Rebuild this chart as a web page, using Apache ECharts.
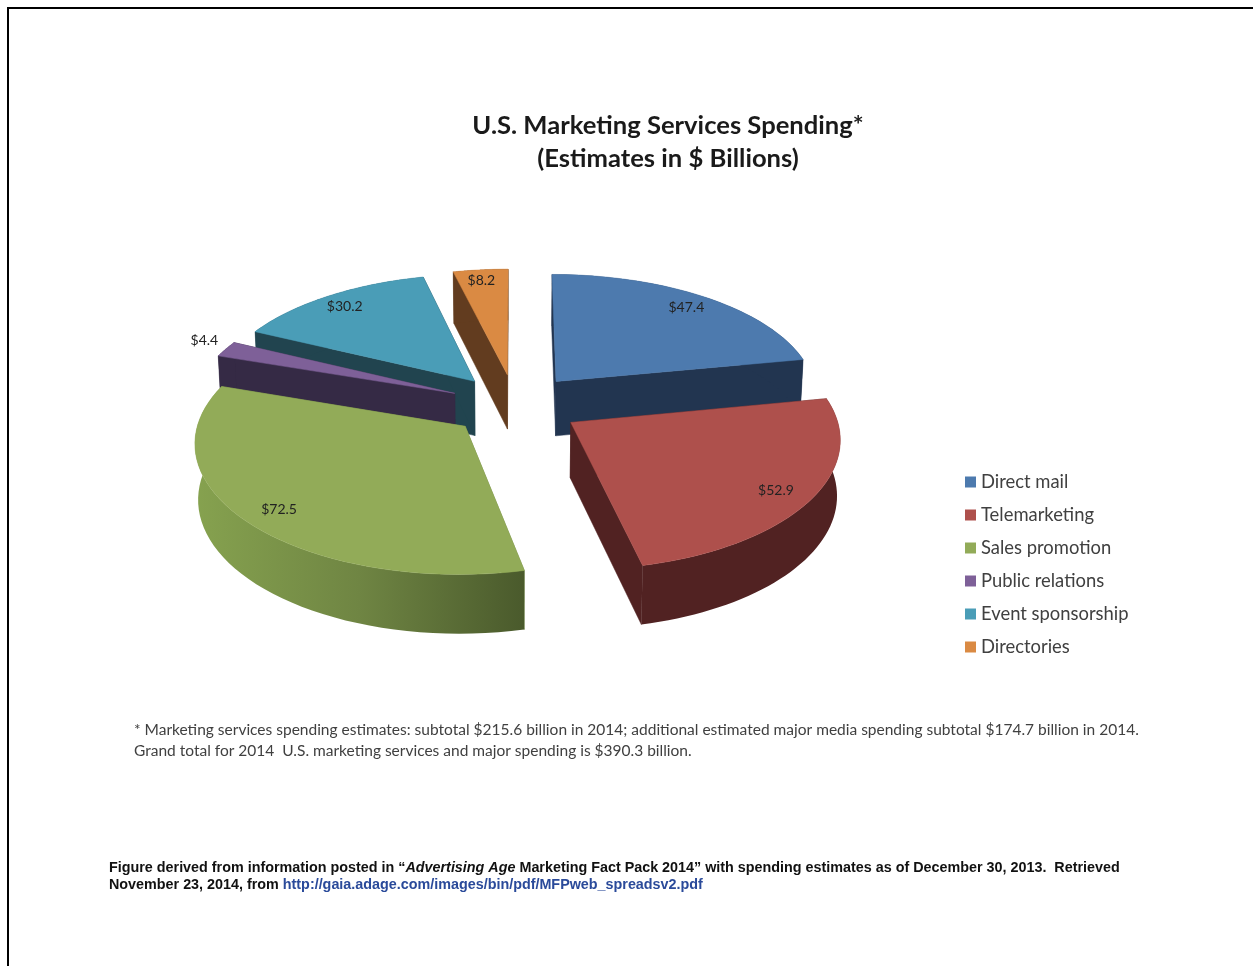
<!DOCTYPE html>
<html>
<head>
<meta charset="utf-8">
<style>
html, body { margin: 0; padding: 0; background: #fff; }
#chart { width: 1253px; height: 966px; }
</style>
<script src="https://cdn.jsdelivr.net/npm/echarts@6/dist/echarts.min.js"></script>
</head>
<body>
<div id="chart"></div>
<script>
const categories = ['Direct mail', 'Telemarketing', 'Sales promotion', 'Public relations', 'Event sponsorship', 'Directories'];
const spending = [47.4, 52.9, 72.5, 4.4, 30.2, 8.2];
const topColors = ['#4d7aae', '#ae504c', '#92ab58', '#7e6098', '#4a9db7', '#da8a43'];
const wallColors = ['#223550', '#512222', '#6d8440', '#352a45', '#21444f', '#623c1f'];
const labelRadius = [0.87, 0.87, 0.87, 1.12, 0.87, 0.89];
const labelTurn = [0, 1.5, -1, 2, -0.5, -0.5];
const paintOrder = [4, 6, 5, 3, 2, 1];

// projection of the pie plane, all in px
const centerX = 515, centerY = 405, radiusX = 263, radiusY = 125;
const depth = 55, perspectiveX = 0.11, perspectiveY = 0.119, explode = 0.25;

const total = spending.reduce((sum, v) => sum + v, 0);

function project(u, v, lower) {
    const sx = 1 / (1 - perspectiveX * v);
    const sy = 1 / (1 - perspectiveY * v);
    const shrink = lower ? 0.99 : 1;
    return [
        centerX + radiusX * u * sx * shrink,
        centerY + radiusY * v * sy + (lower ? depth * Math.sqrt(sy) : 0)
    ];
}

function renderSlice(index) {
    return function (params, api) {
        const value = api.value(0);
        const before = spending.slice(0, index).reduce((sum, v) => sum + v, 0);
        const start = before / total * Math.PI * 2;
        const end = (before + value) / total * Math.PI * 2;
        const mid = (start + end) / 2;
        const ox = explode * Math.sin(mid);
        const oy = -explode * Math.cos(mid);

        const arc = lower => {
            const pts = [];
            for (let i = 0; i <= 48; i++) {
                const a = start + (end - start) * i / 48;
                pts.push(project(ox + Math.sin(a), oy - Math.cos(a), lower));
            }
            return pts;
        };
        const topArc = arc(false);
        const lowArc = arc(true);
        const apexTop = project(ox, oy, false);
        const apexLow = project(ox, oy, true);
        const wallStyle = { fill: wallColors[index], stroke: wallColors[index], lineWidth: 0.5 };

        const outerFill = index === 2
            ? new echarts.graphic.LinearGradient(0, 0, 1, 0, [
                { offset: 0, color: '#86a24f' },
                { offset: 0.5, color: '#6f8543' },
                { offset: 1, color: '#4a5a2c' }
            ])
            : wallColors[index];

        const lr = labelRadius[index];
        const la = mid + labelTurn[index] * Math.PI / 180;
        const labelPos = project(ox + lr * Math.sin(la), oy - lr * Math.cos(la), false);

        return {
            type: 'group',
            children: [
                { type: 'polygon', shape: { points: [apexTop, topArc[0], lowArc[0], apexLow] }, style: wallStyle },
                { type: 'polygon', shape: { points: [apexTop, topArc[48], lowArc[48], apexLow] }, style: wallStyle },
                { type: 'polygon', shape: { points: topArc.concat(lowArc.slice().reverse()) }, style: { fill: outerFill } },
                { type: 'polygon', shape: { points: [apexTop].concat(topArc) }, style: { fill: topColors[index], stroke: topColors[index], lineWidth: 0.5 } },
                {
                    type: 'text',
                    x: labelPos[0],
                    y: labelPos[1],
                    z2: 10,
                    style: {
                        text: '$' + value.toFixed(1),
                        fill: '#222',
                        font: '14px Lato',
                        align: 'center',
                        verticalAlign: 'middle'
                    }
                }
            ]
        };
    };
}

const chart = echarts.init(document.getElementById('chart'));

chart.setOption({
    animation: false,
    backgroundColor: '#fff',
    title: {
        text: 'U.S. Marketing Services Spending*\n(Estimates in $ Billions)',
        left: 663,
        top: 104,
        textAlign: 'center',
        textStyle: { fontFamily: 'Lato', fontWeight: 'bold', fontSize: 25.6, lineHeight: 33, color: '#1a1a1a' }
    },
    legend: {
        orient: 'vertical',
        left: 960,
        top: 466,
        icon: 'rect',
        itemWidth: 11,
        itemHeight: 11,
        itemGap: 11,
        selectedMode: false,
        data: categories,
        textStyle: { fontFamily: 'Lato', fontSize: 18.4, color: '#404040', lineHeight: 22 }
    },
    series: categories.map((name, i) => ({
        type: 'custom',
        name: name,
        coordinateSystem: 'none',
        z: paintOrder[i],
        silent: true,
        itemStyle: { color: topColors[i] },
        renderItem: renderSlice(i),
        data: [[spending[i]]]
    })),
    graphic: [
        { type: 'rect', shape: { x: 7, y: 7, width: 1246, height: 2 }, style: { fill: '#000' } },
        { type: 'rect', shape: { x: 7, y: 7, width: 2, height: 959 }, style: { fill: '#000' } },
        {
            type: 'text', x: 134, y: 720,
            style: {
                text: '* Marketing services spending estimates: subtotal $215.6 billion in 2014; additional estimated major media spending subtotal $174.7 billion in 2014.\nGrand total for 2014  U.S. marketing services and major spending is $390.3 billion.',
                font: '15.5px Lato', fill: '#404040', lineHeight: 20.5
            }
        },
        {
            type: 'text', x: 109, y: 860,
            style: {
                text: '{b|Figure derived from information posted in \u201c}{i|Advertising Age}{b| Marketing Fact Pack 2014\u201d with spending estimates as of December 30, 2013.  Retrieved}\n{b|November 23, 2014, from }{u|http://gaia.adage.com/images/bin/pdf/MFPweb_spreadsv2.pdf}',
                rich: {
                    b: { font: 'bold 14.35px "Liberation Sans"', fill: '#111', lineHeight: 17 },
                    i: { font: 'italic bold 14.35px "Liberation Sans"', fill: '#111', lineHeight: 17 },
                    u: { font: 'bold 14.35px "Liberation Sans"', fill: '#2a4a9a', lineHeight: 17 }
                }
            }
        }
    ]
});
</script>
</body>
</html>
